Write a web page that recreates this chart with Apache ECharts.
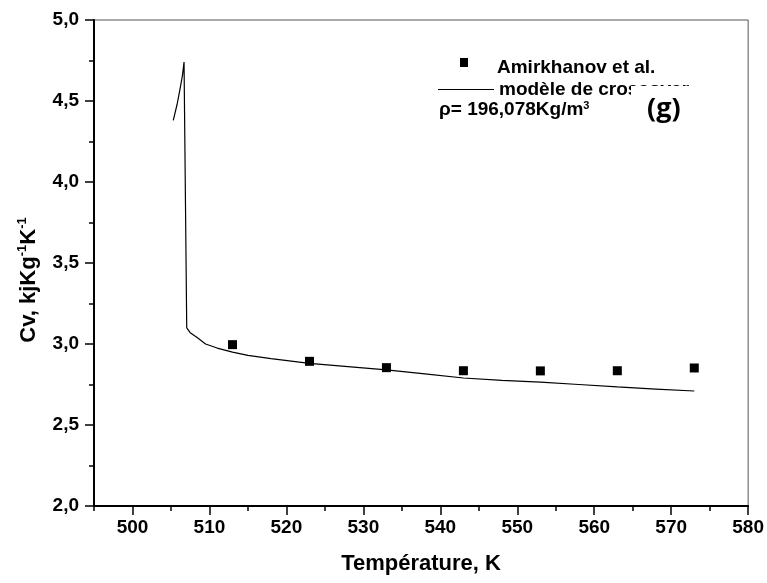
<!DOCTYPE html>
<html>
<head>
<meta charset="utf-8">
<script src="https://cdn.jsdelivr.net/npm/echarts@6/dist/echarts.min.js"></script>
<style>
  html, body { margin: 0; padding: 0; background: #fff; }
  #chart { width: 767px; height: 583px; }
</style>
</head>
<body>
<div id="chart"></div>
<script>
// Amirkhanov et al. measurements
var expT = [513, 523, 533, 543, 553, 563, 573];
var expCv = [2.996, 2.893, 2.854, 2.835, 2.834, 2.835, 2.852];

// crossover model curve
var modelT = [505.3, 505.8, 506.2, 506.5, 506.7, 507.05, 507.5, 508.4, 509.5, 511, 513, 515, 518, 523, 528, 533, 538, 543, 548, 553, 558, 563, 568, 573];
var modelCv = [4.38, 4.48, 4.58, 4.66, 4.74, 3.10, 3.07, 3.04, 3.00, 2.975, 2.95, 2.93, 2.91, 2.88, 2.86, 2.84, 2.815, 2.79, 2.775, 2.765, 2.75, 2.735, 2.722, 2.71];

var majorTicksX = [500, 510, 520, 530, 540, 550, 560, 570, 580];

var FONT = '"Liberation Sans", Arial, sans-serif';

var myChart = echarts.init(document.getElementById('chart'));

function pairs(xs, ys) {
  var out = [];
  for (var i = 0; i < xs.length; i++) out.push([xs[i], ys[i]]);
  return out;
}

var option = {
  backgroundColor: '#fff',
  animation: false,
  grid: {
    left: 94, right: 18, top: 20, bottom: 77,
    show: true, borderColor: '#555', borderWidth: 1
  },
  xAxis: [{
    type: 'value',
    min: 495, max: 580, interval: 5,
    name: 'Température, K',
    nameLocation: 'middle',
    nameGap: 47,
    nameTextStyle: { fontFamily: FONT, fontWeight: 'bold', fontSize: 22, color: '#000' },
    axisLine: { show: true, lineStyle: { color: '#000', width: 2 } },
    axisTick: { show: true, inside: false, length: 5, lineStyle: { color: '#000', width: 1.5 } },
    axisLabel: {
      fontFamily: FONT, fontWeight: 'bold', fontSize: 19, color: '#000', margin: 12,
      formatter: function (v) { return v % 10 === 0 ? String(v) : ''; }
    },
    splitLine: { show: false }
  }, {
    type: 'value',
    position: 'bottom',
    min: 495, max: 580,
    axisLine: { show: false },
    axisTick: { show: true, inside: false, length: 9, customValues: majorTicksX, lineStyle: { color: '#000', width: 1.5 } },
    axisLabel: { show: false },
    splitLine: { show: false }
  }],
  yAxis: {
    type: 'value',
    min: 2, max: 5, interval: 0.5,
    name: '{a|Cv, kjKg}{s|-1}{a|K}{s|-1}',
    nameLocation: 'middle',
    nameGap: 52,
    nameRotate: 90,
    nameTextStyle: {
      padding: [0, 34, 0, 0],
      rich: {
        a: { fontFamily: FONT, fontWeight: 'bold', fontSize: 22, color: '#000', lineHeight: 26 },
        s: { fontFamily: FONT, fontWeight: 'bold', fontSize: 13, color: '#000', lineHeight: 14, verticalAlign: 'top' }
      }
    },
    axisLine: { show: true, lineStyle: { color: '#000', width: 2 } },
    axisTick: { show: true, inside: false, length: 9, lineStyle: { color: '#000', width: 1.5 } },
    minorTick: { show: true, splitNumber: 2, length: 5, lineStyle: { color: '#000', width: 1.5 } },
    axisLabel: {
      fontFamily: FONT, fontWeight: 'bold', fontSize: 19, color: '#000', margin: 15,
      formatter: function (v) { return v.toFixed(1).replace('.', ','); }
    },
    splitLine: { show: false }
  },
  series: [{
    name: 'modèle de crossover',
    type: 'line',
    data: pairs(modelT, modelCv),
    showSymbol: false,
    symbol: 'none',
    lineStyle: { color: '#000', width: 1.2 },
    z: 3
  }, {
    name: 'Amirkhanov et al.',
    type: 'scatter',
    data: pairs(expT, expCv),
    symbol: 'rect',
    symbolSize: [9, 9],
    itemStyle: { color: '#000', opacity: 1 },
    z: 4
  }],
  graphic: [
    { type: 'rect', shape: { x: 460, y: 58, width: 8, height: 9 }, style: { fill: '#000' } },
    { type: 'text', left: 497, top: 58, style: { text: 'Amirkhanov et al.', font: 'bold 19px ' + FONT, fill: '#000' } },
    { type: 'line', shape: { x1: 438, y1: 89.5, x2: 494, y2: 89.5 }, style: { stroke: '#000', lineWidth: 1 } },
    { type: 'text', left: 499, top: 80, style: { text: 'modèle de crossover', font: 'bold 19px ' + FONT, fill: '#000' } },
    { type: 'rect', shape: { x: 631, y: 86, width: 80, height: 14 }, style: { fill: '#fff' }, z: 101 },
    { type: 'text', left: 439, top: 100, style: {
        rich: {
          a: { font: 'bold 19px ' + FONT, fill: '#000' },
          s: { font: 'bold 11px ' + FONT, fill: '#000', verticalAlign: 'top' }
        },
        text: '{a|ρ= 196,078Kg/m}{s|3}'
      } },
    { type: 'text', left: 647, top: 96, z: 102, style: { text: '(g)', font: 'bold 27px "Open Sans", sans-serif', fill: '#000' } }
  ]
};

myChart.setOption(option);
window.addEventListener('resize', function () { myChart.resize(); });
</script>
</body>
</html>
